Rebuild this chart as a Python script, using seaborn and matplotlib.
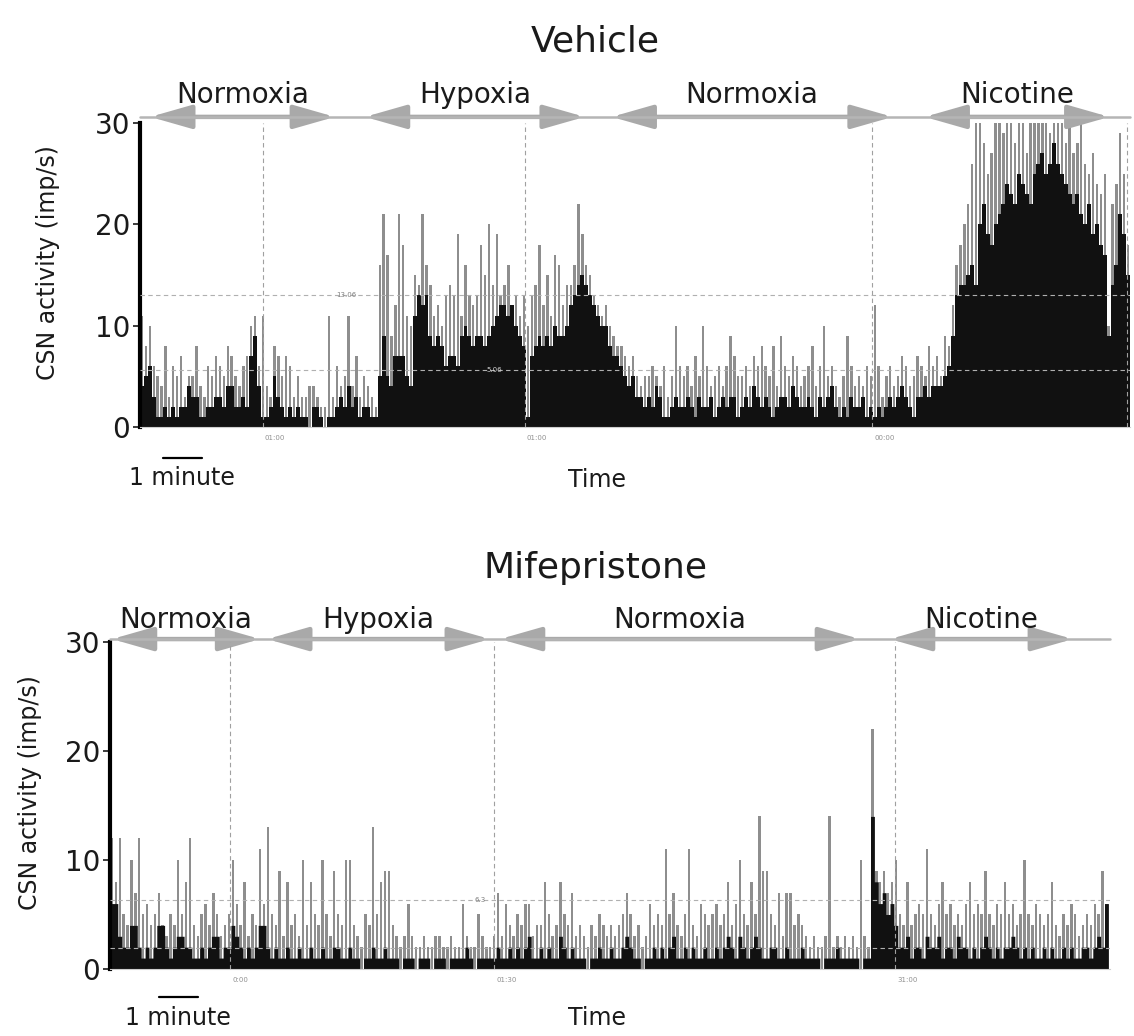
import numpy as np
import pandas as pd
import matplotlib
matplotlib.use("Agg")
import matplotlib.pyplot as plt
import seaborn as sns

# ---------------- data (imp/s per 0.1-min bin) ----------------
bin_width = 0.1  # minutes

vehicle_black = [
    4, 5, 6, 3, 1, 1, 2, 1, 2, 1,
    2, 2, 4, 3, 3, 1, 1, 2, 2, 3,
    3, 2, 4, 4, 2, 2, 3, 2, 7, 9,
    4, 1, 1, 2, 5, 3, 2, 1, 2, 1,
    2, 1, 1, 0, 2, 2, 1, 0, 1, 1,
    2, 3, 2, 4, 2, 3, 1, 2, 2, 1,
    1,
    5, 9, 5, 4, 7, 7, 7, 5, 4,
    11, 13, 12, 13, 9, 8, 9, 8, 6, 7,
    7, 6, 9, 10, 9, 8, 9, 9, 8, 9,
    10, 11, 12, 12, 11, 12, 10, 9, 8, 1,
    7, 8, 9, 8, 9, 8, 10, 9, 9, 10,
    12, 13, 14, 15, 14, 13, 12, 11, 10, 10,
    8, 7, 7, 6, 5, 4, 5, 3, 3, 2,
    3, 2, 4, 3, 1, 1, 2, 3, 2, 2,
    3, 2, 1, 3, 2, 2, 3, 1, 2, 3,
    2, 3, 3, 1, 2, 3, 2, 4, 3, 2,
    3, 2, 1, 2, 3, 3, 2, 4, 3, 2,
    2, 3, 2, 1, 3, 2, 3, 4, 2, 1,
    2, 1, 3, 2, 2, 3, 1, 2, 1, 2,
    1, 2, 3, 2, 3, 4, 3, 2, 1, 3,
    3, 4, 3, 4, 4, 4, 5, 6, 9, 13,
    14, 14, 15, 16, 14, 20, 22, 19, 18, 20,
    21, 22, 24, 23, 22, 25, 24, 23, 22, 25,
    26, 27, 25, 26, 28, 26, 25, 24, 23, 22,
    23, 21, 20, 22, 19, 20, 18, 17, 9, 14,
    16, 21, 19, 15,
]

vehicle_grey = [
    11, 8, 10, 6, 5, 4, 8, 3, 6, 5,
    7, 3, 5, 5, 8, 4, 3, 6, 5, 7,
    6, 5, 8, 7, 5, 4, 6, 7, 10, 11,
    6, 11, 4, 3, 8, 7, 5, 7, 6, 3,
    5, 3, 3, 4, 4, 3, 2, 2, 11, 3,
    6, 4, 5, 11, 4, 7, 3, 5, 4, 3,
    2,
    16, 21, 17, 9, 12, 21, 18, 11, 10,
    15, 14, 21, 16, 14, 11, 12, 10, 13, 14,
    13, 19, 11, 16, 13, 12, 13, 18, 15, 20,
    14, 19, 13, 14, 16, 12, 13, 11, 13, 10,
    13, 14, 18, 12, 15, 11, 17, 16, 12, 14,
    14, 16, 22, 19, 16, 15, 13, 12, 11, 12,
    10, 9, 8, 8, 7, 6, 7, 5, 4, 5,
    5, 6, 5, 4, 6, 3, 5, 10, 6, 5,
    6, 4, 7, 5, 10, 6, 4, 5, 6, 4,
    6, 9, 7, 5, 5, 6, 4, 7, 6, 8,
    6, 5, 8, 4, 9, 6, 5, 7, 6, 4,
    5, 6, 8, 4, 6, 10, 5, 6, 4, 3,
    5, 9, 6, 4, 5, 4, 6, 5, 12, 6,
    3, 5, 6, 4, 5, 7, 6, 4, 5, 7,
    6, 5, 8, 6, 7, 5, 9, 8, 12, 16,
    18, 20, 22, 26, 30, 30, 28, 25, 27, 30,
    30, 29, 30, 30, 28, 30, 30, 27, 30, 30,
    30, 30, 30, 29, 30, 30, 30, 28, 30, 27,
    28, 30, 26, 25, 27, 24, 23, 25, 10, 22,
    24, 29, 25, 18,
]

mife_black = [
    6, 6, 3, 2, 2, 4, 4, 2, 1, 2,
    1, 2, 4, 4, 2, 1, 2, 3, 3, 2,
    2, 1, 1, 2, 1, 2, 3, 3, 1, 2,
    2, 4, 3, 2, 1, 2, 1, 2, 4, 4,
    2, 1, 2, 1, 1, 2, 1, 1, 2, 1,
    1, 2, 1, 1, 2, 1, 1, 2, 2, 1,
    1, 2, 1, 1, 0, 1, 1, 2, 1, 1,
    2, 1, 1, 1, 0, 1, 1, 1, 0, 1,
    1, 1, 0, 1, 1, 1, 0, 1, 1, 1,
    1, 2, 1, 0, 1, 1, 1, 1, 1, 2,
    1, 1, 2, 1, 2, 1, 2, 3, 1, 1,
    2, 1, 2, 1, 1, 3, 2, 1, 2, 1,
    1, 1, 0, 1, 1, 2, 1, 1, 2, 1,
    1, 2, 3, 2, 1, 1, 0, 1, 1, 2,
    1, 2, 1, 2, 3, 1, 1, 2, 1, 2,
    1, 1, 2, 1, 1, 2, 1, 2, 3, 2,
    1, 3, 2, 1, 2, 3, 2, 1, 1, 2,
    2, 1, 1, 2, 1, 1, 1, 2, 1, 1,
    1, 1, 0, 1, 1, 1, 2, 1, 1, 1,
    1, 1, 0, 1, 1, 14, 8, 6, 7, 5,
    6, 4, 2, 2, 3, 1, 2, 2, 1, 3,
    2, 2, 3, 1, 2, 2, 1, 3, 2, 2,
    1, 2, 1, 2, 3, 2, 1, 2, 1, 2,
    2, 3, 2, 1, 2, 1, 2, 1, 1, 2,
    1, 2, 1, 1, 2, 1, 2, 1, 1, 2,
    2, 1, 2, 3, 2, 6,
]

mife_grey = [
    12, 8, 12, 5, 4, 10, 7, 12, 5, 6,
    4, 5, 7, 4, 3, 5, 4, 10, 5, 8,
    12, 4, 3, 5, 6, 4, 7, 5, 3, 4,
    5, 10, 6, 4, 8, 3, 5, 4, 11, 6,
    13, 5, 4, 9, 3, 8, 4, 5, 3, 10,
    4, 8, 5, 4, 10, 5, 3, 9, 5, 4,
    10, 10, 4, 3, 2, 5, 4, 13, 5, 8,
    9, 9, 4, 3, 2, 3, 6, 3, 2, 2,
    3, 2, 2, 3, 3, 2, 2, 3, 2, 2,
    6, 3, 2, 2, 5, 3, 2, 2, 3, 7,
    3, 6, 4, 3, 5, 4, 6, 6, 3, 4,
    4, 8, 5, 3, 4, 8, 5, 4, 7, 3,
    4, 3, 2, 4, 3, 5, 4, 3, 4, 3,
    4, 5, 7, 5, 3, 4, 2, 3, 6, 4,
    5, 4, 11, 5, 7, 4, 3, 5, 11, 4,
    3, 6, 5, 4, 5, 6, 4, 5, 8, 4,
    6, 10, 5, 4, 8, 5, 14, 9, 9, 5,
    4, 7, 3, 7, 7, 4, 5, 4, 3, 2,
    3, 2, 2, 3, 14, 2, 3, 2, 3, 2,
    3, 2, 10, 3, 2, 22, 9, 8, 9, 7,
    8, 10, 5, 4, 8, 4, 5, 6, 5, 11,
    5, 4, 6, 8, 5, 6, 4, 5, 4, 6,
    8, 5, 6, 5, 9, 5, 4, 6, 5, 8,
    5, 6, 4, 5, 10, 5, 4, 6, 5, 4,
    5, 8, 4, 3, 5, 4, 6, 5, 3, 4,
    5, 4, 6, 5, 9, 6,
]

phase_names = ["Normoxia", "Hypoxia", "Normoxia", "Nicotine"]
vehicle_phase_start = [0.26, 5.77, 12.10, 20.13]
vehicle_phase_end = [5.00, 11.41, 19.31, 24.87]
mife_phase_start = [0.05, 4.03, 10.00, 20.00]
mife_phase_end = [3.85, 9.74, 19.23, 24.69]

vehicle_markers = [3.15, 9.87, 18.79, 25.31]   # dashed time marks (min)
mife_markers = [3.08, 9.85, 20.13]
vehicle_levels = [13.06, 5.6]
mife_levels = [6.3, 1.9]
vehicle_marker_labels = ["01:00", "01:00", "00:00"]
mife_marker_labels = ["0:00", "01:30", "31:00"]

# ---------------- plotting ----------------
sns.set_theme(style="white")
plt.rcParams["font.family"] = ["DejaVu Sans"]

fig = plt.figure(figsize=(11.34, 10.36), dpi=100)
ax1 = fig.add_axes([0.1235, 0.5878, 0.8730, 0.2935])
ax2 = fig.add_axes([0.0970, 0.0647, 0.8818, 0.3156])

ARROW_C = "#a9a9a9"


def draw_panel(ax, black, grey, xmax, pstart, pend, markers, levels,
               mlabels, line_y, label_y, ylab_x, bar_x0, bar_y):
    n = min(len(black), len(grey))
    edges = [round(i * bin_width, 6) for i in range(n + 1)]
    df = pd.DataFrame({"t": [e + bin_width / 2 for e in edges[:-1]],
                       "black": np.asarray(black[:n], float),
                       "grey": np.asarray(grey[:n], float)})
    sns.histplot(data=df, x="t", weights="grey", bins=edges,
                 color="#8e8e8e", shrink=0.6, alpha=1, linewidth=0, ax=ax)
    sns.histplot(data=df, x="t", weights="black", bins=edges,
                 element="step", fill=True, color="#111111", alpha=1,
                 linewidth=0, ax=ax)
    ax.set_xlim(0, xmax)
    ax.set_ylim(0, 30)
    ax.set_xlabel("")
    ax.set_ylabel("")
    ax.set_xticks([])
    ax.set_yticks([0, 10, 20, 30])
    ax.tick_params(axis="y", labelsize=20, length=5, width=1.2,
                   direction="out", pad=2, left=True, colors="#1a1a1a")
    for s in ["top", "right"]:
        ax.spines[s].set_visible(False)
    ax.spines["bottom"].set_color("#cfcfcf")
    ax.spines["bottom"].set_linewidth(0.8)
    ax.spines["left"].set_color("black")
    ax.spines["left"].set_linewidth(3)

    # guide lines
    for m in markers:
        ax.axvline(m, color="#a0a0a0", lw=0.8, ls=(0, (4, 3)), zorder=4)
    for lv in levels:
        ax.axhline(lv, color="#b0b0b0", lw=0.8, ls=(0, (4, 3)), zorder=4)
    xt = ax.get_xaxis_transform()
    for m, t in zip(markers, mlabels):
        ax.text(m + 0.05, -0.035, t, transform=xt, fontsize=5,
                color="#909090", ha="left", va="center")

    # phase arrows
    ax.plot([0, 1], [line_y, line_y], transform=ax.transAxes,
            color="#b5b5b5", lw=1.8, clip_on=False, zorder=5)
    for name, s, e in zip(phase_names, pstart, pend):
        ax.annotate("", xy=(e, line_y), xytext=(s, line_y),
                    xycoords=xt, textcoords=xt, annotation_clip=False,
                    arrowprops=dict(arrowstyle="<|-|>,head_length=2.1,head_width=0.6",
                                    color=ARROW_C, lw=3.2,
                                    shrinkA=0, shrinkB=0))
        ax.text((s + e) / 2, label_y, name, transform=xt, fontsize=20,
                ha="center", va="center", color="#1a1a1a")

    ax.set_ylabel("CSN activity (imp/s)", fontsize=17, color="#1a1a1a")
    ax.yaxis.set_label_coords(ylab_x, 0.54)

    # 1-minute scale bar
    ax.plot([bar_x0, bar_x0 + 1.0], [bar_y, bar_y], transform=xt,
            color="black", lw=1.6, clip_on=False)


draw_panel(ax1, vehicle_black, vehicle_grey, 25.4, vehicle_phase_start,
           vehicle_phase_end, vehicle_markers, vehicle_levels,
           vehicle_marker_labels, 1.02, 1.092, -0.081, 0.59, -0.102)
draw_panel(ax2, mife_black, mife_grey, 25.64, mife_phase_start,
           mife_phase_end, mife_markers, mife_levels,
           mife_marker_labels, 1.009, 1.067, -0.068, 1.256, -0.0856)

# small value annotations
ax1.text(5.3, 13.06, "13.06", fontsize=5, color="#808080", ha="center",
         va="center", zorder=6)
ax1.text(9.1, 5.6, "5.06", fontsize=5, color="#d0d0d0", ha="center",
         va="center", zorder=6)
ax2.text(9.5, 6.3, "6.3", fontsize=5, color="#808080", ha="center",
         va="center", zorder=6)

# titles and captions
fig.text(0.5247, 0.9595, "Vehicle", fontsize=26, ha="center", va="center",
         color="#1a1a1a")
fig.text(0.5247, 0.4517, "Mifepristone", fontsize=26, ha="center",
         va="center", color="#1a1a1a")
fig.text(0.1605, 0.5386, "1 minute", fontsize=17, ha="center", va="center",
         color="#1a1a1a")
fig.text(0.5265, 0.5367, "Time", fontsize=17, ha="center", va="center",
         color="#1a1a1a")
fig.text(0.157, 0.0175, "1 minute", fontsize=17, ha="center", va="center",
         color="#1a1a1a")
fig.text(0.5265, 0.0175, "Time", fontsize=17, ha="center", va="center",
         color="#1a1a1a")

fig.savefig("out.png", dpi=100)
